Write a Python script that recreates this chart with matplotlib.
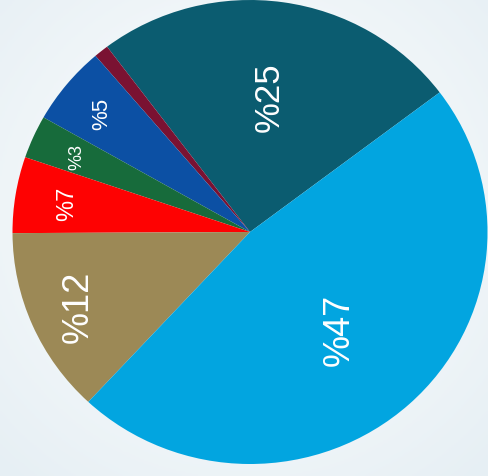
import numpy as np
import matplotlib
matplotlib.use("Agg")
import matplotlib.pyplot as plt

# slice shares, counter-clockwise from the teal slice
shares = [25.0, 1.0, 5.5, 3.0, 5.3, 13.0, 47.2]
labels = ["%25", "", "%5", "%3", "%7", "%12", "%47"]
colors = ["#0b5c70", "#7a1232", "#0c50a4", "#176b3b", "#fe0202", "#9c8956", "#02a5e0"]
label_r = [0.59, 0, 0.81, 0.80, 0.78, 0.79, 0.56]
label_size = [25, 0, 16, 13, 17, 26, 26]

plt.rcParams["font.family"] = ["Liberation Sans", "DejaVu Sans"]

fig = plt.figure(figsize=(4.88, 4.77), dpi=100)
fig.patch.set_facecolor("#eef4f7")

# faint background gradient
bg = fig.add_axes([0, 0, 1, 1])
yy, xx = np.mgrid[0:1:200j, 0:1:200j]
grad = np.sqrt((xx - 0.5) ** 2 + (yy - 0.45) ** 2)
bg.imshow(grad, cmap=matplotlib.colors.LinearSegmentedColormap.from_list(
    "bg", ["#ffffff", "#e6eff4"]), extent=[0, 1, 0, 1], aspect="auto")
bg.axis("off")

ax = fig.add_axes([0, 0, 1, 1])
wedges, _ = ax.pie(shares, colors=colors, startangle=37, counterclock=True,
                   wedgeprops=dict(linewidth=0))
ax.set_aspect("auto")
ax.set_xlim(-250 / 237.5, 238 / 237.5)
ax.set_ylim(-244 / 232, 233 / 232)
ax.axis("off")

for w, lab, r, fs in zip(wedges, labels, label_r, label_size):
    if not lab:
        continue
    mid = np.deg2rad((w.theta1 + w.theta2) / 2)
    ax.text(r * np.cos(mid), r * np.sin(mid), lab, rotation=90,
            ha="center", va="center", color="white", fontsize=fs)

fig.savefig("out.png", dpi=100, facecolor=fig.get_facecolor())
